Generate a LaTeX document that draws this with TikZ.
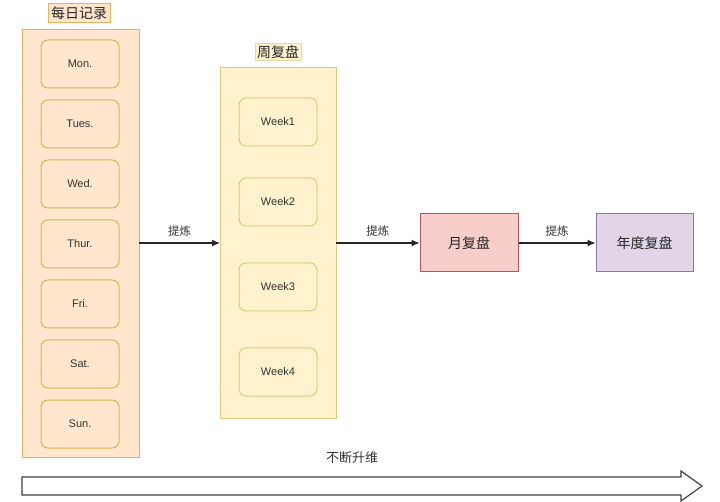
\documentclass[tikz,border=0pt]{standalone}
\usepackage{fontspec}
\setmainfont{Liberation Sans}
\newfontfamily\cjk{Noto Sans CJK SC}
\usetikzlibrary{arrows.meta}

\definecolor{orfill}{HTML}{FFE6CC}
\definecolor{ordraw}{HTML}{E6B260}
\definecolor{yefill}{HTML}{FFF2CC}
\definecolor{yedraw}{HTML}{D6B656}
\definecolor{rdfill}{HTML}{F8CECC}
\definecolor{rddraw}{HTML}{B85450}
\definecolor{pufill}{HTML}{E1D5E7}
\definecolor{pudraw}{HTML}{9673A6}

\begin{document}
\begin{tikzpicture}[x=1pt,y=-1pt,line width=1pt,
    daybox/.style={draw=yedraw,fill=orfill,rounded corners=7pt,minimum width=78pt,minimum height=48pt,font=\fontsize{11}{13}\selectfont,text=black!80},
    weekbox/.style={draw=yedraw!75,fill=yefill,rounded corners=7pt,minimum width=78pt,minimum height=48pt,font=\fontsize{11}{13}\selectfont,text=black!80},
    titlebox/.style={inner sep=3pt,font=\cjk\fontsize{14}{16}\selectfont,text=black!85},
    bigbox/.style={draw,minimum width=98pt,minimum height=58pt,font=\cjk\fontsize{14}{16}\selectfont,text=black!85},
    lbl/.style={font=\cjk\fontsize{11.5}{13}\selectfont,text=black!80},
    link/.style={-{Latex[length=8pt,width=7pt]},line width=1.1pt,black!85}]
  \useasboundingbox (0,0) rectangle (720,502);
  % daily records
  \draw[ordraw,fill=orfill] (22,30) rectangle (139,457);
  \node[titlebox,draw=ordraw,fill=orfill] (daytitle) at (79,13) {每日记录};
  \foreach \d/\y in {Mon./64,Tues./124,Wed./184,Thur./244,Fri./304,Sat./364,Sun./424}
    \node[daybox] (day-\y) at (80,\y) {\d};
  % weekly review
  \draw[yedraw!75,fill=yefill] (220,68) rectangle (336,418);
  \node[titlebox,draw=yedraw!55,fill=yefill,inner sep=2pt] (weektitle) at (278,52) {周复盘};
  \foreach \w/\y in {1/122,2/202,3/287,4/372}
    \node[weekbox] (week\w) at (278,\y) {Week\w};
  \coordinate (dayR) at (139,243);
  \coordinate (weekL) at (220,243);
  \coordinate (weekR) at (336,243);
  % month and year
  \node[bigbox,draw=rddraw,fill=rdfill] (month) at (469,243) {月复盘};
  \node[bigbox,draw=pudraw,fill=pufill,minimum width=97pt] (year) at (644.5,243) {年度复盘};
  \draw[link] (dayR) -- node[lbl,above=3pt] {提炼} (weekL);
  \draw[link] (weekR) -- node[lbl,above=3pt] {提炼} (month);
  \draw[link] (month) -- node[lbl,above=3pt] {提炼} (year);
  % progress arrow
  \draw[black!75,line width=1.2pt,fill=white] (22,477) -- (681,477) -- (681,471) -- (702,486) -- (681,501) -- (681,495) -- (22,495) -- cycle;
  \node[lbl,font=\cjk\fontsize{13}{15}\selectfont] (up) at (352,458) {不断升维};
\end{tikzpicture}
\end{document}
